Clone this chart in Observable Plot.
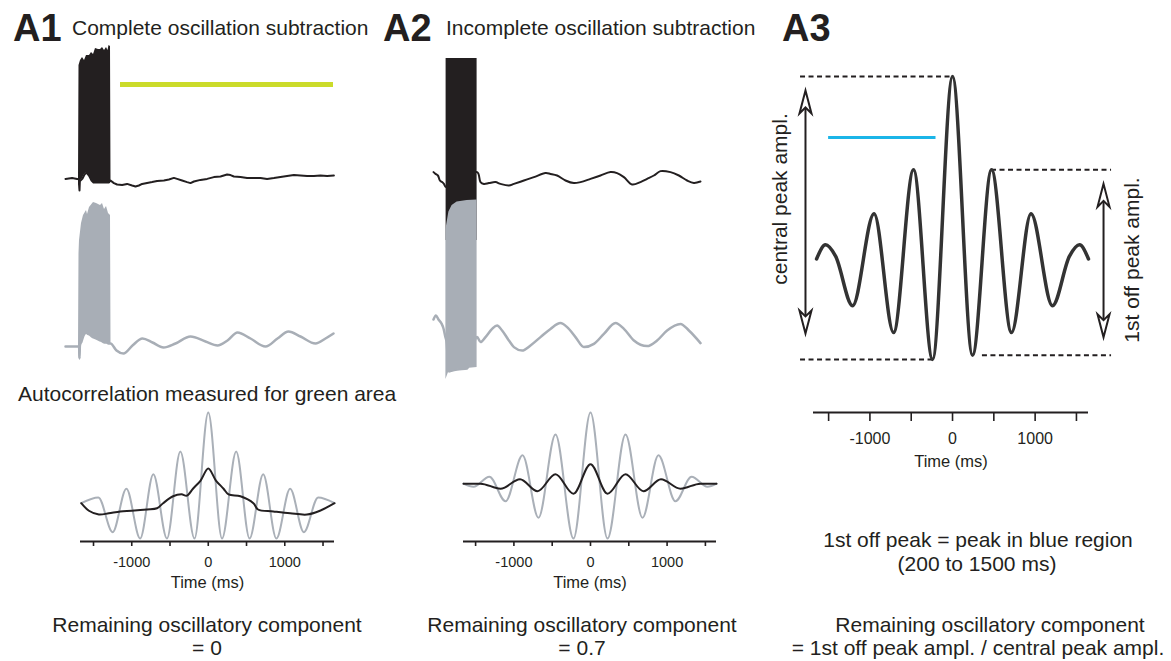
<!DOCTYPE html>
<html><head><meta charset="utf-8">
<script src="https://cdn.jsdelivr.net/npm/d3@7"></script>
<script src="https://cdn.jsdelivr.net/npm/@observablehq/plot@0.6"></script>
<style>
body{margin:0;background:#fff;}
#fig{position:relative;width:1171px;height:661px;overflow:hidden;background:#fff;font-family:"Liberation Sans",Arial,Helvetica,sans-serif;color:#231f20;}
.lbl{position:absolute;white-space:nowrap;line-height:1;}
.panel{position:absolute;}
.panel svg{overflow:visible;background:transparent;}
g[aria-label="x-axis tick"], g[aria-label="x-axis tick"] *{stroke-width:1.6px;}
g[aria-label="x-axis"] .tick line{stroke-width:1.6px;}
</style>
</head><body><div id="fig"></div>
<script>
// ---------------- data ----------------
// Raw traces: [time (s), membrane potential (mV)]; bursts: [time, low, high]
const a1BlackPre = [[0,-60.2],[0.33,-59.8],[0.58,-60.2],[0.68,-60.5],[0.7,-66],[0.72,-61]];
const a1BlackBurst = [[0.65,-66,-60],[0.675,-64,-3.5],[0.75,-61,-1],[0.85,-60,0.5],[0.95,-58,-1],[1.05,-57,1.5],[1.2,-59,1.5],[1.3,-61,3],[1.4,-62,2],[1.5,-62,5],[1.65,-62,4.5],[1.75,-62,4.5],[1.85,-62,5.5],[1.95,-62,4],[2.05,-62,5.5],[2.125,-62,4],[2.175,-62,6.5],[2.25,-62,6],[2.275,-62,-62]];
const a1BlackPost = [[2.25,-61],[2.42,-62.3],[2.58,-63],[2.83,-63.2],[3.08,-62.7],[3.33,-63.5],[3.5,-64],[3.67,-63.5],[3.83,-62.7],[4.08,-62.2],[4.33,-61.8],[4.58,-61.3],[4.92,-61],[5.17,-60.5],[5.42,-59.7],[5.58,-60.2],[5.83,-61],[6.08,-61.8],[6.25,-62.3],[6.42,-61.5],[6.75,-60.7],[7.08,-60.2],[7.42,-59.3],[7.75,-59],[8.08,-58],[8.25,-58.3],[8.42,-59],[8.75,-59.3],[9.08,-59.7],[9.42,-59.8],[9.75,-59.7],[10.08,-60.2],[10.42,-59.8],[10.75,-59.3],[11.08,-58.8],[11.42,-58.3],[11.75,-58.5],[12.08,-58.7],[12.42,-58.8],[12.75,-58.5],[13.08,-58.7],[13.42,-58.5]];
const greenWindow = [2.75, 13.4]; // s, area used for the autocorrelation

const a1GrayPre = [[0,-60.5],[0.6,-60.5],[0.68,-60.5],[0.7,-66.5],[0.72,-60]];
const a1GrayBurst = [[0.65,-66.5,-60.5],[0.675,-66,-14],[0.7,-62,-7.5],[0.8,-58,1],[0.9,-55,5],[1.05,-53.5,7.5],[1.1,-54,5.5],[1.2,-54.5,9],[1.4,-56,11.5],[1.55,-56.5,11],[1.75,-57.5,10],[1.85,-58,11],[1.95,-58.5,8],[2.05,-58.5,9.5],[2.15,-59,6],[2.25,-59,5],[2.275,-59,-59]];
const a1GrayPost = [[2.25,-59],[2.55,-62.5],[2.9,-64],[3.35,-60],[3.85,-56.5],[4.35,-58.5],[4.9,-61],[5.5,-59],[6.25,-55.5],[7.0,-58],[7.6,-60],[8.1,-57.5],[8.6,-53.5],[9.25,-56.5],[10.0,-60.5],[10.6,-56.5],[11.15,-53],[11.75,-55.5],[12.5,-59],[13.0,-56.5],[13.4,-54]];

const a2BlackPre = [[0,-56.8],[0.1,-57.7],[0.22,-58.5],[0.32,-61],[0.43,-61.8],[0.52,-62.7],[0.63,-64.3]];
const a2BlackBurst = [[0.63,-91,0],[2.18,-91,0]];
const a2BlackPost = [[2.18,-56.8],[2.35,-61.8],[2.52,-62.7],[2.77,-62.3],[3.1,-61.8],[3.35,-62.7],[3.77,-63.5],[4.02,-62.7],[4.52,-61],[5.02,-59.3],[5.6,-57.3],[5.85,-57.7],[6.18,-58.5],[6.6,-61],[7.02,-62.3],[7.35,-61.8],[7.85,-60.2],[8.35,-58.5],[8.85,-56.8],[9.18,-57.3],[9.52,-59.3],[9.93,-63],[10.35,-61.8],[10.68,-60.2],[11.02,-58.5],[11.35,-56.3],[11.85,-56.8],[12.27,-58.5],[12.68,-61],[13.02,-62.2],[13.35,-61.5]];

const a2GrayPre = [[0,-47],[0.12,-45],[0.25,-47],[0.4,-49],[0.5,-51.5],[0.6,-56],[0.65,-58]];
const a2GrayBurst = [[0.62,-77,-2],[0.77,-73,6.7],[0.93,-72.5,10],[1.18,-72,11.7],[1.68,-71.5,12.5],[2.18,-71,12.8]];
const a2GrayPost = [[2.18,-55.8],[2.35,-58.3],[2.6,-55.8],[2.93,-51.7],[3.18,-50],[3.43,-52.5],[3.77,-57.5],[4.02,-60.8],[4.43,-62.5],[4.85,-60],[5.35,-55.8],[5.85,-51.7],[6.35,-48.8],[6.68,-50.8],[7.1,-55.8],[7.52,-60.8],[8.02,-59.2],[8.52,-54.2],[9.1,-48.8],[9.52,-51.7],[10.02,-57.5],[10.68,-60.3],[11.18,-57.5],[11.68,-52.5],[12.35,-49.2],[12.77,-52.5],[13.35,-58.8]];

// Autocorrelations: [lag (ms), correlation]
const a1AcGray = [[-1660,-0.44],[-1436,-0.35],[-1250,-0.9],[-1070,-0.21],[-890,-1],[-718,0.02],[-540,-1],[-365,0.38],[-180,-1],[0,1],[180,-1],[365,0.38],[540,-1],[718,0.02],[890,-1],[1070,-0.21],[1250,-0.9],[1436,-0.35],[1650,-0.44]];
const a1AcBlack = [[-1660,-0.44],[-1560,-0.56],[-1430,-0.62],[-1300,-0.6],[-1150,-0.57],[-1000,-0.56],[-800,-0.54],[-670,-0.52],[-590,-0.44],[-460,-0.33],[-350,-0.3],[-280,-0.32],[-200,-0.21],[-100,-0.08],[0,0.11],[100,-0.08],[200,-0.21],[265,-0.3],[420,-0.33],[590,-0.44],[650,-0.54],[850,-0.57],[1070,-0.6],[1290,-0.62],[1460,-0.56],[1650,-0.44]];
const a2AcGray = [[-1658,-0.13],[-1527,-0.18],[-1320,-0.02],[-1109,-0.41],[-887,0.32],[-679,-0.67],[-457,0.65],[-222,-1],[0,1],[222,-1],[457,0.65],[679,-0.67],[887,0.32],[1109,-0.41],[1320,-0.02],[1527,-0.18],[1645,-0.13]];
const a2AcBlack = [[-1658,-0.13],[-1435,-0.13],[-1175,-0.21],[-920,-0.06],[-692,-0.25],[-457,0.02],[-222,-0.29],[0,0.18],[222,-0.29],[457,0.02],[692,-0.25],[920,-0.06],[1175,-0.21],[1435,-0.13],[1645,-0.13]];
const a3Ac = [[-1646,-0.29],[-1537,-0.19],[-1416,-0.27],[-1210,-0.62],[-950,0.03],[-714,-0.81],[-472,0.34],[-242,-1],[0,1],[242,-0.97],[472,0.34],[714,-0.81],[950,0.03],[1210,-0.62],[1416,-0.27],[1537,-0.19],[1646,-0.29]];
const blueRegion = [200, 1500]; // ms
const lagTicks = [-1500, -1000, -500, 0, 500, 1000, 1500];

// text
const panelLetters = ["A1", "A2", "A3"];
const panelTitles = ["Complete oscillation subtraction", "Incomplete oscillation subtraction"];
const remainingValues = ["0", "0.7", "1st off peak ampl. / central peak ampl."];

// ---------------- styles ----------------
const INK = "#231f20", GRAY = "#a8aeb6", GRAYAC = "#aab0b8", GREEN = "#cbdb2a", BLUE = "#1bb5e8", A3INK = "#333333";
const FONT = "'Liberation Sans', Arial, Helvetica, sans-serif";
const fig = document.getElementById("fig");

function place(svg, left, top) {
  const d = document.createElement("div");
  d.className = "panel";
  d.style.left = left + "px"; d.style.top = top + "px";
  d.appendChild(svg); fig.appendChild(d);
}
function label(text, x, y, {size = 21, weight = "normal", anchor = "middle", rotate = 0} = {}) {
  const d = document.createElement("div");
  d.className = "lbl";
  d.textContent = text;
  d.style.left = x + "px"; d.style.top = y + "px";
  d.style.fontSize = size + "px"; d.style.fontWeight = weight;
  const tx = anchor === "start" ? "0" : "-50%";
  d.style.transform = `translate(${tx},-50%)` + (rotate ? ` rotate(${rotate}deg)` : "");
  fig.appendChild(d);
}
const svgStyle = (fs) => ({fontFamily: FONT, fontSize: fs + "px", color: INK, background: "transparent", overflow: "visible"});
const X = d => d[0], Y = d => d[1];

function rawPlot({width, height, yDomain, pre, burst, post, color, curve, through = true, extra = []}) {
  const t0 = pre[pre.length - 1][0], t1 = post[0][0];
  const mid = through ? burst.filter(d => d[0] > t0 && d[0] < t1).map(d => [d[0], d[1]]) : [];
  return Plot.plot({
    width, height, margin: 0,
    x: {domain: [-0.25, 13.75], axis: null},
    y: {domain: yDomain, axis: null},
    style: svgStyle(12),
    marks: [
      Plot.line([...pre, ...mid, ...post], {x: X, y: Y, stroke: color, strokeWidth: color === INK ? 2 : 2.5, curve, strokeLinejoin: "round"}),
      Plot.areaY(burst, {x: X, y1: d => d[1], y2: d => d[2], fill: color}),
      ...extra
    ]
  });
}

// ---------------- A1 raw ----------------
place(rawPlot({width: 280, height: 160, yDomain: [-71, 9], pre: a1BlackPre, burst: a1BlackBurst, post: a1BlackPost, color: INK, curve: "linear",
  extra: [Plot.ruleY([greenWindow], {x1: d => d[0], x2: d => d[1], y: -13, stroke: GREEN, strokeWidth: 5})]}), 60, 40);
place(rawPlot({width: 280, height: 180, yDomain: [-72.5, 17.5], pre: a1GrayPre, burst: a1GrayBurst, post: a1GrayPost, color: GRAY, curve: "monotone-x"}), 60, 190);

// ---------------- A2 raw ----------------
place(rawPlot({width: 280, height: 200, yDomain: [-91, 9], pre: a2BlackPre, burst: a2BlackBurst, post: a2BlackPost, color: INK, curve: "catmull-rom", through: false}), 428, 40);
place(rawPlot({width: 280, height: 200, yDomain: [-82.5, 17.5], pre: a2GrayPre, burst: a2GrayBurst, post: a2GrayPost, color: GRAY, curve: "monotone-x"}), 428, 190);

// ---------------- autocorrelation plots ----------------
const tickFmt = d => (d % 1000 === 0 ? String(d) : "");
function acPlot({width, marginLeft, marginRight, xDomain, gray, black, blackCurve}) {
  const yDomain = [-1.048, 1.19];
  return Plot.plot({
    width, height: 191, marginLeft, marginRight, marginTop: 0, marginBottom: 50,
    x: {domain: xDomain, ticks: lagTicks, tickFormat: tickFmt, tickSize: 5, tickPadding: 10, label: null},
    y: {domain: yDomain, axis: null},
    style: svgStyle(14.5),
    marks: [
      Plot.line(gray, {x: X, y: Y, stroke: GRAYAC, strokeWidth: 2, curve: "monotone-x"}),
      Plot.line(black, {x: X, y: Y, stroke: INK, strokeWidth: 2, curve: blackCurve}),
      Plot.ruleY([yDomain[0]], {stroke: INK, strokeWidth: 1.8}),
      Plot.text(["Time (ms)"], {frameAnchor: "bottom", dy: 46, fontSize: 16.5, fill: INK})
    ]
  });
}
place(acPlot({width: 290, marginLeft: 20, marginRight: 16, xDomain: [-1670, 1650], gray: a1AcGray, black: a1AcBlack, blackCurve: "catmull-rom"}), 60, 400);
place(acPlot({width: 300, marginLeft: 23, marginRight: 24, xDomain: [-1658, 1645], gray: a2AcGray, black: a2AcBlack, blackCurve: "monotone-x"}), 440, 400);

// ---------------- A3 ----------------
{
  const yDomain = [-1.375, 1.113];
  const central = a3Ac.reduce((a, b) => (b[1] > a[1] ? b : a));
  const offPeak = a3Ac.filter(d => d[0] >= blueRegion[0] && d[0] <= blueRegion[1]).reduce((a, b) => (b[1] > a[1] ? b : a));
  const troughL = a3Ac.filter(d => d[0] < 0).reduce((a, b) => (b[1] < a[1] ? b : a));
  const troughR = a3Ac.filter(d => d[0] > 0).reduce((a, b) => (b[1] < a[1] ? b : a));
  const guideL = -1840, guideR = 1925;
  const guides = [
    {x1: guideL, x2: central[0], y: central[1]},
    {x1: offPeak[0], x2: guideR, y: offPeak[1]},
    {x1: guideL, x2: troughL[0], y: troughL[1]},
    {x1: troughR[0] + 120, x2: guideR, y: troughR[1]}
  ];
  const dart = {draw(ctx) { ctx.moveTo(0, 0); ctx.lineTo(-6, 23); ctx.lineTo(0, 17); ctx.lineTo(6, 23); ctx.closePath(); }};
  const arrows = [
    {x: -1780, lo: troughL[1], hi: central[1], insetHi: 14, insetLo: 26},
    {x: 1828, lo: troughR[1], hi: offPeak[1], insetHi: 14, insetLo: 18}
  ];
  const arrowMarks = arrows.flatMap(a => [
    Plot.ruleX([a], {x: "x", y1: "hi", y2: "lo", insetTop: a.insetHi + 3, insetBottom: a.insetLo + 3, stroke: INK, strokeWidth: 2}),
    Plot.dot([a], {x: "x", y: "hi", dy: a.insetHi, symbol: dart, r: 4, fill: "white", stroke: INK, strokeWidth: 2, strokeLinejoin: "miter"}),
    Plot.dot([a], {x: "x", y: "lo", dy: -a.insetLo, rotate: 180, symbol: dart, r: 4, fill: "white", stroke: INK, strokeWidth: 2, strokeLinejoin: "miter"})
  ]);
  const svg = Plot.plot({
    width: 320, height: 412, marginLeft: 23, marginRight: 22, marginTop: 0, marginBottom: 60,
    x: {domain: [-1683, 1646], ticks: lagTicks, tickFormat: tickFmt, tickSize: 9, tickPadding: 11, label: null},
    y: {domain: yDomain, axis: null},
    style: svgStyle(16),
    marks: [
      Plot.ruleY(guides, {x1: "x1", x2: "x2", y: "y", stroke: INK, strokeWidth: 2, strokeDasharray: "5,3.5"}),
      Plot.ruleY([blueRegion], {x1: d => -d[1], x2: d => -d[0], y: 0.569, stroke: BLUE, strokeWidth: 3}),
      Plot.line(a3Ac, {x: X, y: Y, stroke: A3INK, strokeWidth: 3.5, curve: "monotone-x"}),
      ...arrowMarks,
      Plot.ruleY([yDomain[0]], {stroke: INK, strokeWidth: 1.8}),
      Plot.text(["Time (ms)"], {frameAnchor: "bottom", dy: 54, fontSize: 16.5, fill: INK})
    ]
  });
  place(svg, 790, 60);
}

// ---------------- text ----------------
label(panelLetters[0], 13, 27.5, {size: 38, weight: "bold", anchor: "start"});
label(panelTitles[0], 72, 27, {anchor: "start"});
label(panelLetters[1], 383, 27.5, {size: 38, weight: "bold", anchor: "start"});
label(panelTitles[1], 446, 27, {anchor: "start"});
label(panelLetters[2], 782, 27.5, {size: 38, weight: "bold", anchor: "start"});
label("Autocorrelation measured for green area", 18, 393, {anchor: "start"});
label("Remaining oscillatory component", 207, 624);
label("= " + remainingValues[0], 207, 647);
label("Remaining oscillatory component", 582, 624);
label("= " + remainingValues[1], 582, 647);
label(`1st off peak = peak in blue region`, 978, 539);
label(`(${blueRegion[0]} to ${blueRegion[1]} ms)`, 977, 563);
label("Remaining oscillatory component", 990, 624);
label("= " + remainingValues[2], 978, 647);
label("central peak ampl.", 779, 199, {rotate: -90});
label("1st off peak ampl.", 1131, 260, {rotate: -90});
</script>
</body></html>
